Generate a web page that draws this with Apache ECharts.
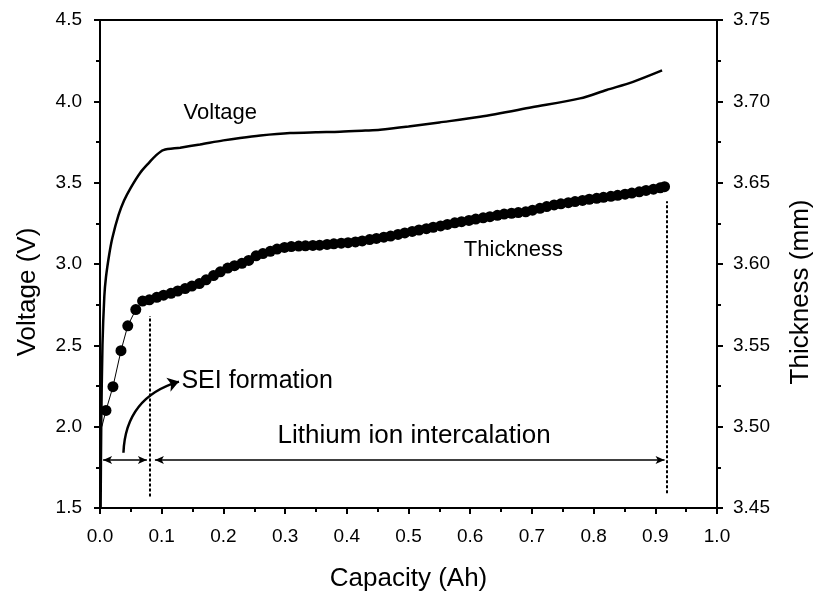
<!DOCTYPE html>
<html><head><meta charset="utf-8">
<script src="https://cdn.jsdelivr.net/npm/echarts@6/dist/echarts.min.js"></script>
<style>html,body{margin:0;padding:0;background:#fff}#c{width:816px;height:596px}</style>
</head><body><div id="c"></div>
<script>
// Voltage curve: capacity (Ah) and voltage (V)
var voltCap = [0.001,0.002,0.004,0.007,0.0097,0.015,0.02,0.03,0.039,0.05,0.065,0.08,0.09,0.1026,0.13,0.162,0.2,0.227,0.26,0.308,0.35,0.389,0.43,0.454,0.5,0.55,0.616,0.7,0.778,0.821,0.864,0.911];
var voltVal = [1.5,2.0,2.5,2.8,2.92,3.06,3.16,3.30,3.39,3.47,3.56,3.625,3.665,3.70,3.715,3.735,3.76,3.775,3.79,3.805,3.81,3.813,3.82,3.825,3.845,3.87,3.905,3.963,4.018,4.07,4.12,4.19];
// Thickness curve: capacity (Ah) and thickness (mm)
var thickCap = [0.003,0.0097,0.021,0.034,0.045,0.058,0.069,0.080,0.092,0.103,0.115,0.126,0.138,0.149,0.161,0.172,0.184,0.195,0.207,0.218,0.230,0.241,0.253,0.264,0.276,0.287,0.299,0.310,0.322,0.333,0.345,0.356,0.368,0.379,0.391,0.402,0.414,0.425,0.437,0.448,0.460,0.471,0.483,0.494,0.506,0.517,0.529,0.540,0.552,0.563,0.575,0.586,0.598,0.609,0.621,0.632,0.644,0.655,0.667,0.678,0.690,0.701,0.713,0.724,0.736,0.747,0.759,0.770,0.782,0.793,0.805,0.816,0.828,0.839,0.851,0.862,0.874,0.885,0.897,0.908,0.915];
var thickVal = [3.500,3.5100,3.5246,3.5467,3.5620,3.5720,3.5772,3.5780,3.5795,3.5808,3.5820,3.5834,3.5849,3.5864,3.5880,3.5903,3.5929,3.5952,3.5975,3.5990,3.6004,3.6022,3.6050,3.6064,3.6078,3.6092,3.6102,3.6107,3.6110,3.6112,3.6114,3.6116,3.6120,3.6124,3.6128,3.6131,3.6136,3.6142,3.6150,3.6157,3.6165,3.6172,3.6182,3.6191,3.6200,3.6209,3.6217,3.6226,3.6234,3.6243,3.6253,3.6260,3.6268,3.6276,3.6284,3.6291,3.6299,3.6307,3.6312,3.6316,3.6321,3.6331,3.6342,3.6353,3.6363,3.6370,3.6377,3.6384,3.6391,3.6398,3.6404,3.6410,3.6416,3.6422,3.6429,3.6436,3.6444,3.6452,3.6460,3.6468,3.6475];
var xTicks = ['0.0','0.1','0.2','0.3','0.4','0.5','0.6','0.7','0.8','0.9','1.0'];

var FONT = 'Liberation Sans, Arial, sans-serif';
var chart = echarts.init(document.getElementById('c'), null, {renderer:'canvas'});

var voltData = voltCap.map(function(c,i){return [c, voltVal[i]];});
var thickData = thickCap.map(function(c,i){
  return i === 0 ? {value:[c, thickVal[i]], symbol:'none'} : [c, thickVal[i]];
});

function yAx(min,max,interval,dec,pos,name,gap,margin){
  return {
    type:'value', position:pos, min:min, max:max, interval:interval,
    name:name, nameLocation:'middle', nameGap:gap, nameRotate:90,
    nameTextStyle:{fontFamily:FONT, fontSize:26, color:'#000', padding:[0,56,0,0]},
    axisLine:{show:true, lineStyle:{color:'#000', width:2}},
    axisTick:{show:true, inside:false, length:6, lineStyle:{color:'#000', width:2}},
    minorTick:{show:true, splitNumber:2, length:4, lineStyle:{color:'#000', width:2}},
    splitLine:{show:false},
    axisLabel:{fontFamily:FONT, fontSize:19, color:'#000', margin:margin,
      formatter:function(v){return v.toFixed(dec);}}
  };
}

var arrowStyle = {color:'#000', width:1.5, type:'solid'};
var dashStyle = {color:'#000', width:2, type:[3,2]};

chart.setOption({
  animation:false,
  backgroundColor:'#fff',
  grid:{left:100, right:99, top:20, bottom:88, containLabel:false, outerBoundsMode:'none',
        show:true, borderColor:'#000', borderWidth:2, backgroundColor:'transparent'},
  xAxis:{
    type:'value', min:0, max:1, interval:0.1,
    name:'Capacity (Ah)', nameLocation:'middle', nameGap:58,
    nameTextStyle:{fontFamily:FONT, fontSize:26, color:'#000'},
    axisLine:{show:true, onZero:false, lineStyle:{color:'#000', width:2}},
    axisTick:{show:true, length:6, lineStyle:{color:'#000', width:2}},
    minorTick:{show:true, splitNumber:2, length:4, lineStyle:{color:'#000', width:2}},
    splitLine:{show:false},
    axisLabel:{fontFamily:FONT, fontSize:19, color:'#000', margin:19,
      formatter:function(v){return xTicks[Math.round(v*10)];}}
  },
  yAxis:[
    yAx(1.5,4.5,0.5,1,'left','Voltage (V)',59,18),
    yAx(3.45,3.75,0.05,2,'right','Thickness (mm)',71,16)
  ],
  series:[
    {
      type:'line', yAxisIndex:0, data:voltData, showSymbol:false, smooth:0.3,
      lineStyle:{color:'#000', width:2.5}, z:3,
      markLine:{
        silent:true, animation:false,
        label:{show:false},
        lineStyle:{type:'solid', color:'#000'},
        data:[
          [{coord:[0.005,1.795], symbol:'arrow', symbolSize:[6,9]},{coord:[0.076,1.795], symbol:'arrow', symbolSize:[6,9], lineStyle:arrowStyle}],
          [{coord:[0.089,1.795], symbol:'arrow', symbolSize:[6,9]},{coord:[0.915,1.795], symbol:'arrow', symbolSize:[6,9], lineStyle:arrowStyle}],
          [{coord:[0.081,1.57], symbol:'none'},{coord:[0.081,2.68], symbol:'none', lineStyle:dashStyle}],
          [{coord:[0.918,1.59], symbol:'none'},{coord:[0.918,3.385], symbol:'none', lineStyle:dashStyle}]
        ]
      },
      markPoint:{
        silent:true, symbol:'circle', symbolSize:0,
        data:[
          {coord:[0.195,3.931], label:{show:true, formatter:'Voltage', fontFamily:FONT, fontSize:22, color:'#000', position:'inside'}},
          {coord:[0.67,3.086], label:{show:true, formatter:'Thickness', fontFamily:FONT, fontSize:22, color:'#000', position:'inside'}},
          {coord:[0.132,2.281], label:{show:true, formatter:'SEI formation', fontFamily:FONT, fontSize:25, color:'#000', position:'right', distance:0}},
          {coord:[0.509,1.946], label:{show:true, formatter:'Lithium ion intercalation', fontFamily:FONT, fontSize:26, color:'#000', position:'inside'}}
        ]
      }
    },
    {
      type:'line', yAxisIndex:1, data:thickData, symbol:'circle', symbolSize:11, showAllSymbol:true,
      itemStyle:{color:'#000'}, lineStyle:{color:'#000', width:1}, z:4
    },
    {
      type:'lines', coordinateSystem:'cartesian2d', xAxisIndex:0, yAxisIndex:0,
      silent:true, symbol:['none','arrow'], symbolSize:[8,11],
      lineStyle:{color:'#000', width:2.5, type:'solid', curveness:0.36, opacity:1},
      data:[{coords:[[0.038,1.84],[0.128,2.277]]}]
    }
  ]
});
</script></body></html>
